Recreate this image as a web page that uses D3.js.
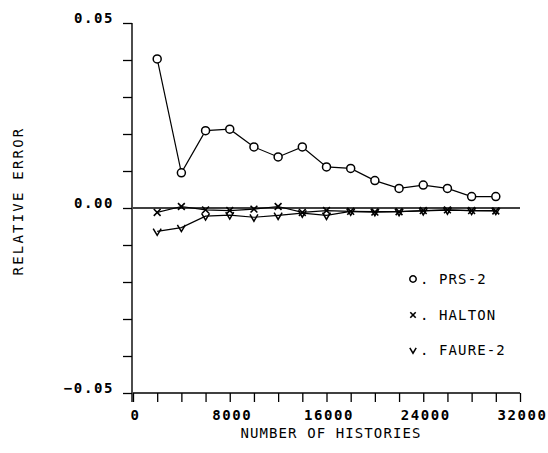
<!DOCTYPE html>
<html>
<head>
<meta charset="utf-8">
<script src="https://cdn.jsdelivr.net/npm/d3@7"></script>
<style>
  body { margin: 0; background: #fff; }
  text { font-family: "DejaVu Sans Mono", monospace; fill: #000; }
</style>
</head>
<body>
<div id="chart"></div>
<script>
// histories (x) for every series
const histories = [2000, 4000, 6000, 8000, 10000, 12000, 14000, 16000, 18000, 20000, 22000, 24000, 26000, 28000, 30000];

// relative error per series
const prs2 = [0.0403, 0.0095, 0.0209, 0.0213, 0.0165, 0.0138, 0.0165, 0.0111, 0.0107, 0.0074, 0.0053, 0.0062, 0.0053, 0.0031, 0.0031];
const halton = [-0.0012, 0.0004, -0.0005, -0.0007, -0.0003, 0.0004, -0.0012, -0.0007, -0.0009, -0.0011, -0.0010, -0.0007, -0.0005, -0.0007, -0.0008];
const faure2 = [-0.0063, -0.0053, -0.0022, -0.0019, -0.0025, -0.0020, -0.0014, -0.0020, -0.0009, -0.0010, -0.0010, -0.0008, -0.0006, -0.0007, -0.0007];

const seriesNames = ["PRS-2", "HALTON", "FAURE-2"];
const xTicks = d3.range(0, 32001, 2000);
const xLabels = [0, 8000, 16000, 24000, 32000];
const yTicks = d3.range(-0.05, 0.0501, 0.01).map(d => +d.toFixed(2));
const yLabels = [-0.05, 0, 0.05];

const svg = d3.select("#chart")
  .append("svg")
  .attr("width", 548)
  .attr("height", 453);

const x = d3.scaleLinear().domain([0, 32000]).range([133, 520]);
const y = d3.scaleLinear().domain([-0.05, 0.05]).range([393, 23]);

// left axis
const yAxis = svg.append("g")
  .attr("transform", "translate(132,0)")
  .call(d3.axisLeft(y).tickValues(yTicks).tickSize(9).tickPadding(9)
    .tickFormat(d => yLabels.some(v => Math.abs(v - d) < 1e-9) ? d3.format(".2f")(d) : ""));
yAxis.select(".domain").attr("d", `M0,${y(0.05)}V${y(-0.05) + 9}`).attr("stroke-width", 1.4);
yAxis.selectAll("line").attr("stroke-width", 1.3);
yAxis.selectAll("text")
  .attr("dy", "-1")
  .style("font-size", "14px")
  .style("font-weight", "bold")
  .style("letter-spacing", "1.6px");

// bottom axis
const xAxis = svg.append("g")
  .attr("transform", "translate(0,393)")
  .call(d3.axisBottom(x).tickValues(xTicks).tickSize(9).tickPadding(7)
    .tickFormat(d => xLabels.includes(d) ? d : ""));
xAxis.select(".domain").attr("d", `M${x(0)},0H${x(32000)}`).attr("stroke-width", 1.4);
xAxis.selectAll("line").attr("stroke-width", 1.3);
xAxis.selectAll("text")
  .attr("dx", "2")
  .attr("dy", "0.8em")
  .style("font-size", "14px")
  .style("font-weight", "bold")
  .style("letter-spacing", "1.6px");

// zero line
svg.append("line")
  .attr("x1", x(0)).attr("x2", x(32000))
  .attr("y1", y(0)).attr("y2", y(0))
  .attr("stroke", "#000").attr("stroke-width", 1.4);

// axis titles
svg.append("text")
  .attr("x", 331).attr("y", 438)
  .attr("text-anchor", "middle")
  .style("font-size", "14px")
  .style("letter-spacing", "1.1px")
  .text("NUMBER OF HISTORIES");

svg.append("text")
  .attr("transform", "translate(23,201) rotate(-90)")
  .attr("text-anchor", "middle")
  .style("font-size", "14px")
  .style("letter-spacing", "2.2px")
  .text("RELATIVE ERROR");

// series
const line = d3.line().x((d, i) => x(histories[i])).y(d => y(d));
const allSeries = [prs2, halton, faure2];

allSeries.forEach(s => {
  svg.append("path")
    .datum(s)
    .attr("fill", "none")
    .attr("stroke", "#000")
    .attr("stroke-width", 1.2)
    .attr("d", line);
});

function marker(g, kind, size) {
  if (kind === 0) {
    g.append("circle").attr("r", size).attr("fill", "#fff").attr("stroke", "#000").attr("stroke-width", 1.5);
  } else if (kind === 1) {
    const s = size * 0.85;
    g.append("path").attr("d", `M${-s},${-s}L${s},${s}M${-s},${s}L${s},${-s}`)
      .attr("stroke", "#000").attr("stroke-width", 1.6).attr("fill", "none");
  } else {
    const s = size;
    g.append("path").attr("d", `M${-s},${-s * 0.7}L0,${s}L${s},${-s * 0.7}`)
      .attr("stroke", "#000").attr("stroke-width", 1.5).attr("fill", "none");
  }
}

allSeries.forEach((s, k) => {
  s.forEach((v, i) => {
    const g = svg.append("g").attr("transform", `translate(${x(histories[i])},${y(v)})`);
    marker(g, k, 4);
  });
});

// legend
const legendY = [279, 315, 350];
seriesNames.forEach((name, k) => {
  const g = svg.append("g").attr("transform", `translate(413,${legendY[k]})`);
  marker(g, k, 3.2);
  svg.append("text")
    .attr("x", 420).attr("y", legendY[k] + 5)
    .style("font-size", "14px")
    .style("letter-spacing", "1.1px")
    .text(". " + name);
});
</script>
</body>
</html>
